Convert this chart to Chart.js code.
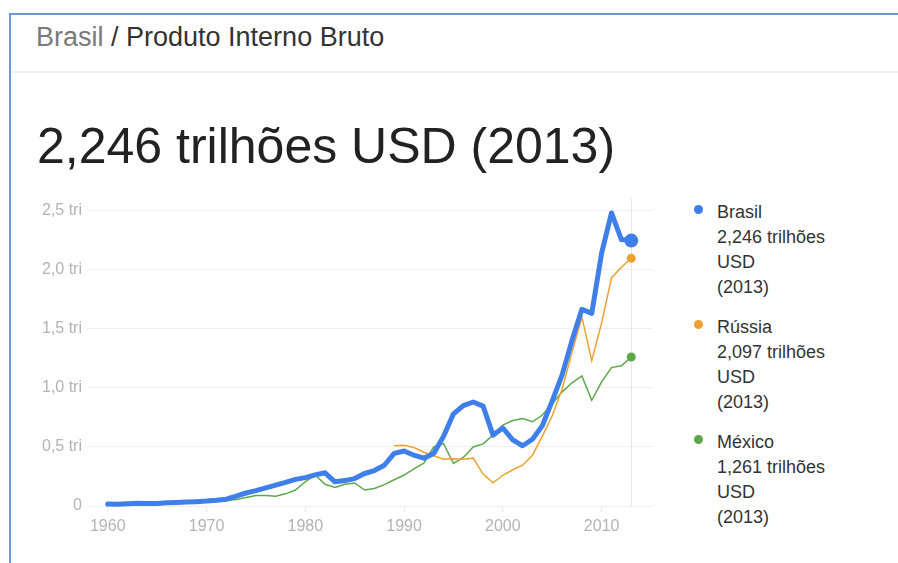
<!DOCTYPE html>
<html>
<head>
<meta charset="utf-8">
<script src="https://cdn.jsdelivr.net/npm/chart.js@4/dist/chart.umd.min.js"></script>
<style>
    body { margin: 0; background: #fff; font-family: "Liberation Sans", Arial, sans-serif; }
    #page { position: relative; width: 898px; height: 563px; overflow: hidden; }
    #frame { position: absolute; left: 9px; top: 13px; width: 900px; height: 560px; border-left: 2px solid #6d97d8; border-top: 2px solid #6d97d8; }
    #sep { position: absolute; left: 11px; top: 71px; width: 890px; height: 2px; background: #f0f0f0; }
    #crumb { position: absolute; left: 36px; top: 24px; font-size: 27px; line-height: 1; color: #333; white-space: nowrap; }
    #crumb span { color: #7a7a7a; }
    #bigTitle { position: absolute; left: 37px; top: 121px; font-size: 50px; line-height: 1; color: #222; white-space: nowrap; }
    #chartBox { position: absolute; left: 0; top: 195px; width: 660px; height: 345px; }
    #legend { position: absolute; left: 717px; top: 200px; font-size: 18px; line-height: 25px; color: #333; }
    .item { position: relative; margin-bottom: 15px; }
    .dot { position: absolute; left: -23px; top: 5px; width: 9px; height: 9px; border-radius: 50%; }
</style>
</head>
<body>
<div id="page">
    <div id="frame"></div>
    <div id="sep"></div>
    <div id="crumb"><span>Brasil</span> / Produto Interno Bruto</div>
    <div id="bigTitle">2,246 trilhões USD (2013)</div>
    <div id="chartBox"><canvas id="myChart"></canvas></div>
    <div id="legend"></div>
</div>

<script>
// anos 1960 - 2013
const years = []
for (let y = 1960; y <= 2013; y++) years.push(y)

const seriesNames = ["Brasil", "Rússia", "México"]
const seriesLabels = ["2,246 trilhões USD (2013)", "2,097 trilhões USD (2013)", "1,261 trilhões USD (2013)"]
const seriesColors = ["#3f7fe9", "#f0a030", "#5da84d"]

// valores em trilhões de USD
const brasil = [
    0.017, 0.015, 0.020, 0.023, 0.021, 0.022, 0.027, 0.030, 0.033, 0.037,
    0.042, 0.049, 0.058, 0.084, 0.110, 0.130, 0.153, 0.176, 0.200, 0.225,
    0.240, 0.263, 0.281, 0.205, 0.215, 0.232, 0.275, 0.300, 0.345, 0.445,
    0.465, 0.430, 0.405, 0.445, 0.590, 0.780, 0.850, 0.880, 0.845, 0.600,
    0.660, 0.560, 0.510, 0.565, 0.680, 0.890, 1.110, 1.400, 1.665, 1.630,
    2.140, 2.480, 2.255, 2.246
]
const russia = [
    null, null, null, null, null, null, null, null, null, null,
    null, null, null, null, null, null, null, null, null, null,
    null, null, null, null, null, null, null, null, null, 0.510,
    0.515, 0.495, 0.455, 0.425, 0.395, 0.400, 0.395, 0.405, 0.270, 0.196,
    0.260, 0.307, 0.345, 0.430, 0.591, 0.764, 0.990, 1.300, 1.600, 1.230,
    1.550, 1.930, 2.020, 2.097
]
const mexico = [
    0.013, 0.014, 0.015, 0.017, 0.020, 0.022, 0.024, 0.026, 0.029, 0.032,
    0.035, 0.039, 0.045, 0.055, 0.072, 0.088, 0.089, 0.082, 0.103, 0.135,
    0.205, 0.263, 0.184, 0.156, 0.184, 0.195, 0.135, 0.148, 0.181, 0.222,
    0.262, 0.314, 0.363, 0.501, 0.527, 0.360, 0.411, 0.500, 0.526, 0.600,
    0.684, 0.724, 0.741, 0.713, 0.770, 0.866, 0.966, 1.043, 1.101, 0.895,
    1.051, 1.171, 1.186, 1.261
]

const xTicks = [1960, 1970, 1980, 1990, 2000, 2010]
const yTicks = [0, 0.5, 1.0, 1.5, 2.0, 2.5]
const lastYear = 2013

function toPoints(values) {
    let pts = []
    for (let i = 0; i < years.length; i++) {
        if (values[i] !== null) pts.push({ x: years[i], y: values[i] })
    }
    return pts
}

function lastDot(radius) {
    return (ctx) => ctx.raw && ctx.raw.x === lastYear ? radius : 0
}

// legenda html
let cartona = ``
for (let i = 0; i < seriesNames.length; i++) {
    let parts = seriesLabels[i].split(" ")
    cartona += `
        <div class="item">
            <div class="dot" style="background:${seriesColors[i]}"></div>
            ${seriesNames[i]}<br>${parts[0]} ${parts[1]}<br>${parts[2]}<br>${parts[3]}
        </div>`
}
document.getElementById("legend").innerHTML = cartona

const lastYearLine = {
    id: "lastYearLine",
    beforeDatasetsDraw(chart) {
        const c = chart.ctx
        const x = Math.round(chart.scales.x.getPixelForValue(lastYear)) + 0.5
        c.save()
        c.strokeStyle = "#e6e6e6"
        c.lineWidth = 1
        c.beginPath()
        c.moveTo(x, chart.chartArea.top - 12)
        c.lineTo(x, chart.chartArea.bottom)
        c.stroke()
        c.restore()
    }
}

const ctx = document.getElementById("myChart")

new Chart(ctx, {
    type: "line",
    data: {
        datasets: [
            {
                label: seriesNames[0],
                data: toPoints(brasil),
                borderColor: seriesColors[0],
                backgroundColor: seriesColors[0],
                borderWidth: 5,
                pointRadius: lastDot(7),
                pointBorderWidth: 0,
                borderJoinStyle: "round",
                borderCapStyle: "round"
            },
            {
                label: seriesNames[1],
                data: toPoints(russia),
                borderColor: seriesColors[1],
                backgroundColor: seriesColors[1],
                borderWidth: 1.5,
                pointRadius: lastDot(4.5),
                pointBorderWidth: 0
            },
            {
                label: seriesNames[2],
                data: toPoints(mexico),
                borderColor: seriesColors[2],
                backgroundColor: seriesColors[2],
                borderWidth: 1.5,
                pointRadius: lastDot(4.5),
                pointBorderWidth: 0
            }
        ]
    },
    options: {
        responsive: true,
        maintainAspectRatio: false,
        animation: false,
        clip: false,
        layout: { padding: { top: 14.5, right: 8, left: 0, bottom: 0 } },
        plugins: {
            legend: { display: false },
            tooltip: { enabled: false }
        },
        scales: {
            x: {
                type: "linear",
                min: 1958,
                max: 2015.1,
                afterBuildTicks: (s) => { s.ticks = xTicks.map(v => ({ value: v })) },
                afterFit: (s) => { s.height = 34 },
                border: { display: false },
                grid: { drawOnChartArea: false, drawTicks: true, tickLength: 6, color: "#ececec" },
                ticks: {
                    color: "#b3b3b3",
                    font: { family: "Liberation Sans", size: 16 },
                    padding: 5,
                    maxRotation: 0,
                    callback: (v) => String(v)
                }
            },
            y: {
                min: 0,
                max: 2.5,
                afterBuildTicks: (s) => { s.ticks = yTicks.map(v => ({ value: v })) },
                afterFit: (s) => { s.width = 88 },
                border: { display: false },
                grid: { drawTicks: false, color: "#eeeeee" },
                ticks: {
                    color: "#b3b3b3",
                    font: { family: "Liberation Sans", size: 16 },
                    padding: 6,
                    callback: (v) => v === 0 ? "0" : v.toFixed(1).replace(".", ",") + " tri"
                }
            }
        }
    },
    plugins: [lastYearLine]
})
</script>
</body>
</html>
